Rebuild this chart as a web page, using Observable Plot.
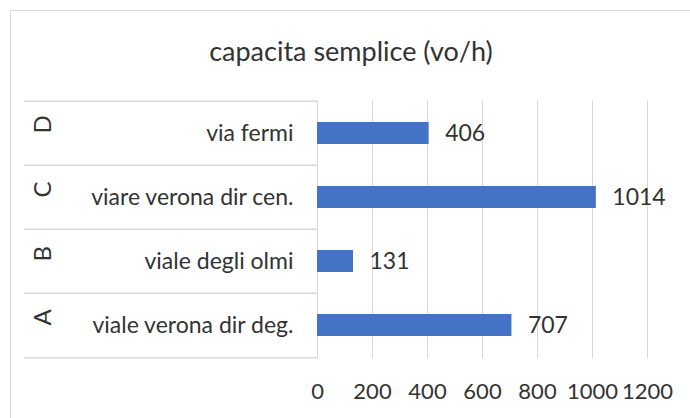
<!DOCTYPE html>
<html>
<head>
<meta charset="utf-8">
<script src="https://cdn.jsdelivr.net/npm/d3@7"></script>
<script src="https://cdn.jsdelivr.net/npm/@observablehq/plot@0.6"></script>
<style>
  body { margin: 0; background: #fff; }
  #chart { position: relative; width: 690px; height: 418px; overflow: hidden; background: #fff; }
  #border { position: absolute; left: 10px; top: 10px; width: 720px; height: 440px; border: 1px solid #d9d9d9; }
  #title { position: absolute; left: 0; top: 35px; width: 702px; text-align: center;
           font-family: Lato, "Open Sans", sans-serif; font-size: 27px; line-height: 1.2; color: #333; }
  #plot { position: absolute; left: 0; top: 0; }
</style>
</head>
<body>
<div id="chart">
  <div id="border"></div>
  <div id="title">capacita semplice (vo/h)</div>
  <div id="plot"></div>
</div>
<script>
const letters = ["D", "C", "B", "A"];
const names = ["via fermi", "viare verona dir cen.", "viale degli olmi", "viale verona dir deg."];
const values = [406, 1014, 131, 707];
const xTicks = [0, 200, 400, 600, 800, 1000, 1200];

const data = letters.map((l, i) => ({letter: l, name: names[i], value: values[i]}));

const W = 690, H = 418, mL = 317, mR = 43, mT = 100, mB = 60;
const step = (H - mT - mB) / letters.length;
const tableLeft = 24;

const chart = Plot.plot({
  width: W, height: H,
  marginLeft: mL, marginRight: mR, marginTop: mT, marginBottom: mB,
  style: {background: "transparent", fontFamily: "Lato, 'Open Sans', sans-serif", color: "#404040"},
  x: {domain: [0, 1200], ticks: xTicks},
  y: {domain: letters, paddingInner: 0.66, paddingOuter: 0.33, axis: null},
  marks: [
    Plot.ruleX(xTicks, {stroke: "#d9d9d9", strokeWidth: 1}),
    Plot.ruleY(letters, {y: d => d, dy: -step / 2, stroke: "#d9d9d9", strokeWidth: 1.5,
      insetLeft: -(mL - tableLeft), insetRight: (W - mR - mL) - 1}),
    Plot.ruleY([letters[letters.length - 1]], {y: d => d, dy: step / 2, stroke: "#d9d9d9", strokeWidth: 1.5,
      insetLeft: -(mL - tableLeft), insetRight: (W - mR - mL) - 1}),
    Plot.barX(data, {x: "value", y: "letter", fill: "#4472C4"}),
    Plot.text(data, {x: "value", y: "letter", text: d => String(d.value), dx: 16, textAnchor: "start",
      fontSize: 23, fill: "#333"}),
    Plot.text(data, {y: "letter", text: "name", frameAnchor: "left", dx: -24, textAnchor: "end",
      fontSize: 23, fill: "#333"}),
    Plot.text(data, {y: "letter", text: "letter", frameAnchor: "left", dx: -(mL - 43), rotate: -90,
      fontSize: 24, fill: "#333"}),
    Plot.axisX({ticks: xTicks, tickFormat: d => String(d), tickSize: 0, tickPadding: 25, fontSize: 22,
      label: null, color: "#333"})
  ]
});
document.getElementById("plot").appendChild(chart);
</script>
</body>
</html>
